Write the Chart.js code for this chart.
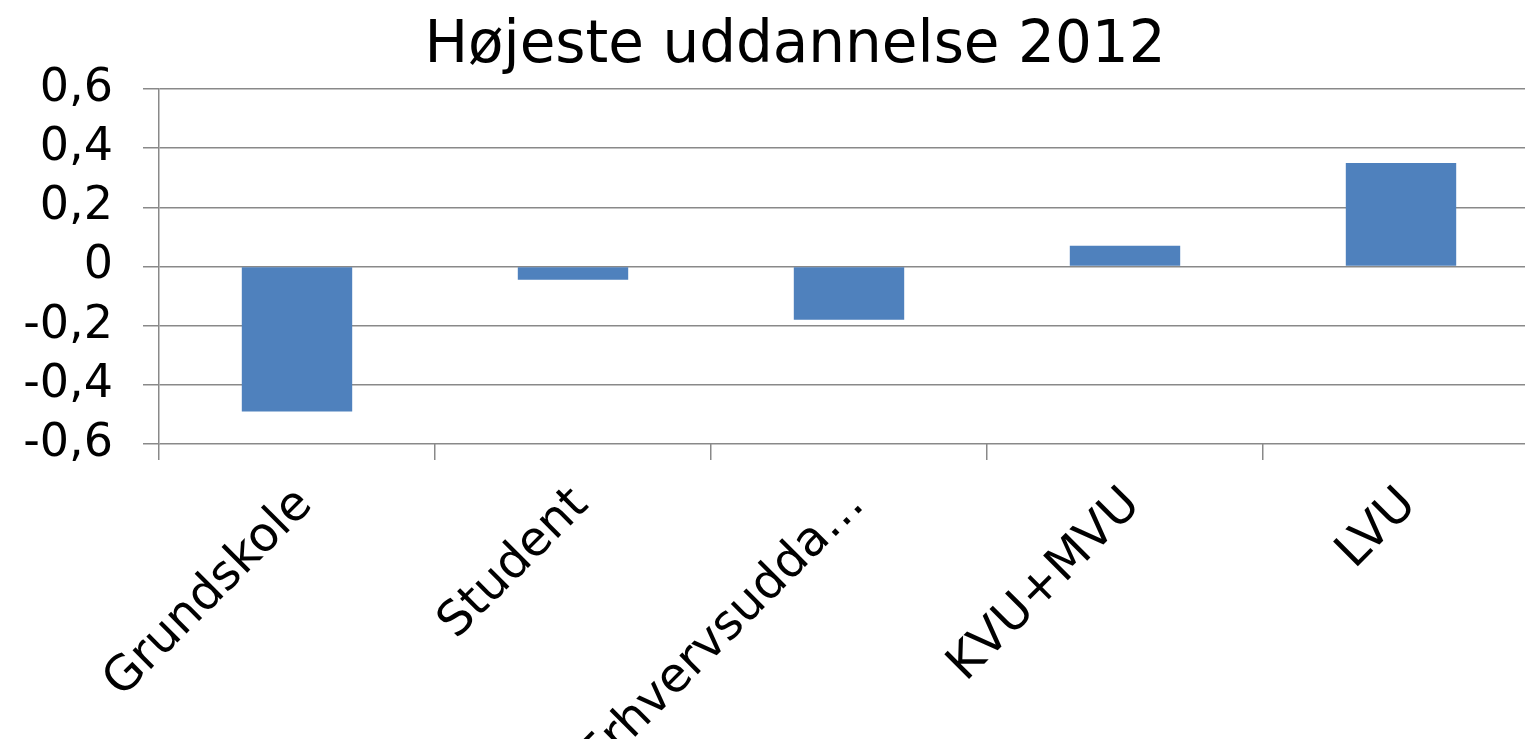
<!DOCTYPE html>
<html>
<head>
<meta charset="utf-8">
<script src="https://cdn.jsdelivr.net/npm/chart.js@4/dist/chart.umd.min.js"></script>
<style>
  html, body { margin: 0; padding: 0; background: #fff; overflow: hidden; }
  #wrap { width: 1525px; height: 739px; overflow: hidden; }
</style>
</head>
<body>
<div id="wrap"><canvas id="chart" width="1540" height="739"></canvas></div>
<script>
// chart data
const title = "Højeste uddannelse 2012";
const categories = ["Grundskole", "Student", "Erhvervsudda…", "KVU+MVU", "LVU"];
const values = [-0.49, -0.045, -0.18, 0.07, 0.35];
const yMin = -0.6;
const yMax = 0.6;
const yStep = 0.2;

const BAR_BLUE = "#4F81BD";
const GRID_GREY = "#898989";
const FONT = "'DejaVu Sans', Verdana, sans-serif";

function formatTick(v) {
  if (Math.abs(v) < 1e-9) return "0";
  return v.toFixed(1).replace(".", ",");
}

// title is drawn by hand so it can sit a bit right of the canvas centre, like the original
const titlePlugin = {
  id: "offsetTitle",
  afterDraw(chart) {
    const ctx = chart.ctx;
    ctx.save();
    ctx.fillStyle = "#000";
    ctx.font = "58px " + FONT;
    ctx.textAlign = "center";
    ctx.textBaseline = "alphabetic";
    ctx.fillText(title, 795, 62);
    ctx.restore();
  },
};

new Chart(document.getElementById("chart"), {
  type: "bar",
  data: {
    labels: categories,
    datasets: [
      {
        data: values,
        backgroundColor: BAR_BLUE,
        borderWidth: 0,
        categoryPercentage: 1,
        barPercentage: 0.4,
      },
    ],
  },
  plugins: [titlePlugin],
  options: {
    responsive: false,
    animation: false,
    layout: { padding: { left: 0, right: 1, top: 89, bottom: 0 } },
    plugins: {
      legend: { display: false },
      tooltip: { enabled: false },
      title: { display: false },
    },
    scales: {
      x: {
        grid: {
          drawOnChartArea: false,
          drawTicks: true,
          tickLength: 16,
          color: GRID_GREY,
          lineWidth: 1.5,
        },
        border: { display: false },
        ticks: {
          color: "#000",
          font: { family: FONT, size: 48 },
          minRotation: 45,
          maxRotation: 45,
          padding: 17,
          labelOffset: 8,
          autoSkip: false,
        },
        afterFit: (scale) => {
          scale.height = 295;
        },
      },
      y: {
        min: yMin,
        max: yMax,
        grid: {
          color: GRID_GREY,
          lineWidth: 1.5,
          tickLength: 16,
        },
        border: { color: GRID_GREY, width: 1.5 },
        ticks: {
          stepSize: yStep,
          color: "#000",
          font: { family: FONT, size: 46 },
          padding: 30,
          callback: (v) => formatTick(v),
        },
        afterFit: (scale) => {
          scale.width = 159;
        },
      },
    },
  },
});
</script>
</body>
</html>
